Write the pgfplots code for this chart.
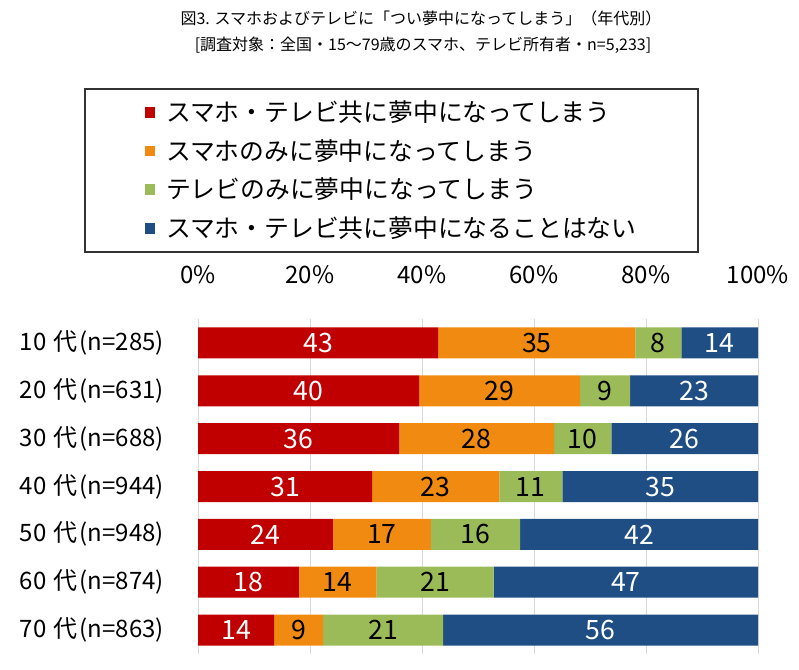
\documentclass[border=0pt]{standalone}
\usepackage{pgfplots}
\pgfplotsset{compat=1.18}
\usepackage{pgfplotstable}
\usepackage{fontspec}
\setmainfont{Noto Sans CJK JP}
\definecolor{cRed}{HTML}{C00000}
\definecolor{cOrange}{HTML}{F08A10}
\definecolor{cGreen}{HTML}{9BBB59}
\definecolor{cBlue}{HTML}{1F4E85}
\definecolor{cGrid}{HTML}{D9D9D9}

\pgfplotstableread{
y red orange green blue
6 42.9 35.2 8.2 13.7
5 39.5 28.75 8.9 22.85
4 35.9 27.7 10.2 26.2
3 31.1 22.7 11.25 34.95
2 24.1 17.5 15.9 42.5
1 18.0 13.9 20.9 47.2
0 13.6 8.75 21.4 56.25
}\bars

\pgfplotstableread{
y rx rl ox ol gx gl bx bl
6 21.45 43 60.5 35 82.2 8 93.15 14
5 19.75 40 53.875 29 72.7 9 88.575 23
4 17.95 36 49.75 28 68.7 10 86.9 26
3 15.55 31 42.45 23 59.425 11 82.525 35
2 12.05 24 32.85 17 49.55 16 78.75 42
1 9.0 18 24.95 14 42.35 21 76.4 47
0 6.8 14 17.975 9 33.05 21 71.875 56
}\labs

\newcommand{\dai}[2]{#1\hspace{5pt}代\hspace{2pt}(n=#2)}

\begin{document}
\begin{tikzpicture}
\useasboundingbox (0,0) rectangle (599.25pt,501.75pt);
\node[font=\fontsize{12}{13}\selectfont, anchor=center] at (315.75pt,488.25pt) {図3. スマホおよびテレビに「つい夢中になってしまう」（年代別）};
\node[font=\fontsize{12}{13}\selectfont, anchor=center] at (317.25pt,468pt) {[調査対象：全国・15～79歳のスマホ、テレビ所有者・n=5,233]};

\begin{axis}[
  at={(148.5pt,11.25pt)}, anchor=south west,
  scale only axis, width=420pt, height=251.25pt,
  xbar stacked, bar width=23.25pt,
  xmin=0, xmax=100, ymin=-0.5, ymax=6.5,
  axis line style={draw=none},
  major tick length=0pt,
  xtick={0,20,...,100},
  xticklabel pos=upper,
  xticklabel={\pgfmathprintnumber{\tick}\%},
  /pgf/number format/assume math mode=true,
  ytick={0,...,6},
  yticklabels={\dai{70}{863},\dai{60}{874},\dai{50}{948},\dai{40}{944},\dai{30}{688},\dai{20}{631},\dai{10}{285}},
  xmajorgrids,
  grid style={line width=0.75pt, color=cGrid},
  tick label style={font=\fontsize{18}{20}\selectfont},
  xticklabel style={yshift=23pt},
  yticklabel style={xshift=-22pt},
  legend cell align=left,
  legend style={
    at={(axis description cs:-0.2036,1.6896)}, anchor=north west,
    draw=black!80, line width=1.2pt,
    inner xsep=45pt, inner ysep=7.6pt,
    row sep=9pt, column sep=7pt,
    font=\fontsize{18.6}{20}\selectfont,
    nodes={inner sep=1pt, text height=16pt, text depth=2pt},
  },
  legend image code/.code={\path[#1, draw=none] (0pt,-4pt) rectangle (8pt,4pt);},
]
\addplot[fill=cRed, draw=none] table[x=red, y=y] {\bars};
\addplot[fill=cOrange, draw=none] table[x=orange, y=y] {\bars};
\addplot[fill=cGreen, draw=none] table[x=green, y=y] {\bars};
\addplot[fill=cBlue, draw=none] table[x=blue, y=y] {\bars};
\legend{スマホ・テレビ共に夢中になってしまう, スマホのみに夢中になってしまう, テレビのみに夢中になってしまう, スマホ・テレビ共に夢中になることはない}
\end{axis}

\begin{axis}[
  at={(148.5pt,11.25pt)}, anchor=south west,
  scale only axis, width=420pt, height=251.25pt,
  xmin=0, xmax=100, ymin=-0.5, ymax=6.5,
  hide axis,
  nodes near coords, nodes near coords align={center},
  point meta=explicit symbolic,
  every node near coord/.append style={font=\fontsize{20}{22}\selectfont, inner sep=0pt},
]
\addplot[draw=none, mark=none, every node near coord/.append style={text=white}] table[x=rx, y=y, meta=rl] {\labs};
\addplot[draw=none, mark=none, every node near coord/.append style={text=black}] table[x=ox, y=y, meta=ol] {\labs};
\addplot[draw=none, mark=none, every node near coord/.append style={text=black}] table[x=gx, y=y, meta=gl] {\labs};
\addplot[draw=none, mark=none, every node near coord/.append style={text=white}] table[x=bx, y=y, meta=bl] {\labs};
\end{axis}
\end{tikzpicture}
\end{document}
